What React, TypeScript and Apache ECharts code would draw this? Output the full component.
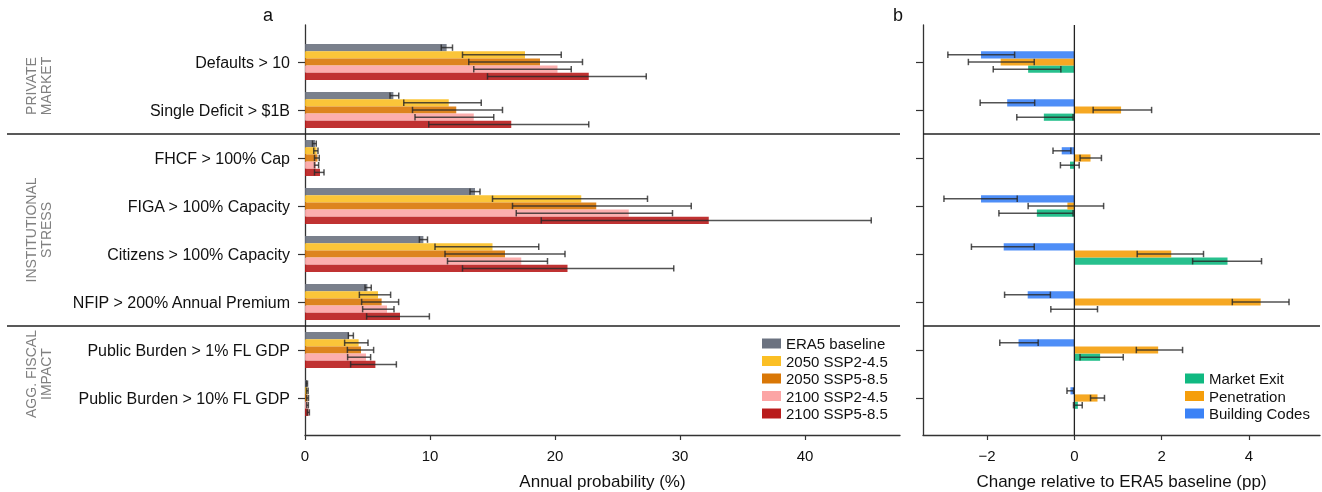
import React, { useEffect, useRef } from 'react';
import * as echarts from 'echarts';

// ---------- data ----------
const categories = [
  'Defaults > 10',
  'Single Deficit > $1B',
  'FHCF > 100% Cap',
  'FIGA > 100% Capacity',
  'Citizens > 100% Capacity',
  'NFIP > 200% Annual Premium',
  'Public Burden > 1% FL GDP',
  'Public Burden > 10% FL GDP',
];

const scenarioNames = ['ERA5 baseline', '2050 SSP2-4.5', '2050 SSP5-8.5', '2100 SSP2-4.5', '2100 SSP5-8.5'];
const scenarioColors = ['#6b7280', '#fbbf24', '#d97706', '#fca5a5', '#b91c1c'];

const era5 = [11.33, 7.07, 0.8, 13.6, 9.47, 4.99, 3.52, 0.15];
const era5Lo = [10.9, 6.8, 0.6, 13.2, 9.15, 4.8, 3.47, 0.1];
const era5Hi = [11.8, 7.5, 0.9, 14.0, 9.8, 5.3, 3.87, 0.2];

const ssp245_2050 = [17.6, 11.5, 0.93, 22.1, 15.0, 5.84, 4.29, 0.18];
const ssp245_2050Lo = [12.6, 7.9, 0.7, 15.0, 10.4, 4.35, 3.17, 0.12];
const ssp245_2050Hi = [20.5, 14.1, 1.04, 27.4, 18.7, 6.85, 5.04, 0.25];

const ssp585_2050 = [18.8, 12.1, 1.0, 23.3, 16.0, 6.13, 4.48, 0.2];
const ssp585_2050Lo = [13.1, 8.6, 0.76, 16.6, 11.2, 4.53, 3.39, 0.13];
const ssp585_2050Hi = [22.2, 15.8, 1.14, 30.9, 20.8, 7.49, 5.49, 0.28];

const ssp245_2100 = [20.2, 13.5, 0.88, 25.9, 17.3, 6.56, 4.88, 0.2];
const ssp245_2100Lo = [13.5, 8.8, 0.76, 16.9, 11.4, 4.61, 3.41, 0.13];
const ssp245_2100Hi = [21.3, 15.1, 1.09, 29.4, 19.4, 7.12, 5.25, 0.27];

const ssp585_2100 = [22.7, 16.5, 1.2, 32.3, 21.0, 7.6, 5.63, 0.28];
const ssp585_2100Lo = [14.6, 9.9, 0.76, 18.9, 12.6, 4.93, 3.65, 0.18];
const ssp585_2100Hi = [27.3, 22.7, 1.52, 45.3, 29.5, 9.95, 7.31, 0.35];

const policyNames = ['Market Exit', 'Penetration', 'Building Codes'];
const policyColors = ['#10b981', '#f59e0b', '#3b82f6'];

const marketExit = [-1.06, -0.7, -0.1, -0.86, 3.51, 0.0, 0.59, 0.08];
const marketExitLo = [-1.86, -1.32, -0.32, -1.73, 2.71, -0.54, 0.13, -0.02];
const marketExitHi = [-0.31, -0.03, 0.11, -0.03, 4.29, 0.53, 1.12, 0.18];

const penetration = [-1.69, 1.07, 0.37, -0.16, 2.22, 4.27, 1.92, 0.53];
const penetrationLo = [-2.43, 0.43, 0.13, -1.06, 1.44, 3.62, 1.42, 0.37];
const penetrationHi = [-0.92, 1.77, 0.62, 0.67, 2.96, 4.92, 2.48, 0.69];

const buildingCodes = [-2.14, -1.54, -0.29, -2.14, -1.62, -1.07, -1.28, -0.09];
const buildingCodesLo = [-2.9, -2.16, -0.49, -2.99, -2.36, -1.6, -1.71, -0.17];
const buildingCodesHi = [-1.37, -0.91, -0.08, -1.31, -0.92, -0.55, -0.83, -0.02];

const groupLabels = ['PRIVATE\nMARKET', 'INSTITUTIONAL\nSTRESS', 'AGG. FISCAL\nIMPACT'];
const groupCenters = [0.5, 3.5, 6.5];
const groupSeparators = [1.5, 5.5];

const aTicks = [0, 10, 20, 30, 40];
const bTicks = [-2, 0, 2, 4];

// ---------- helpers ----------
const FONT = '"Liberation Sans", Arial, Helvetica, sans-serif';
const ERR = 'rgba(40,40,40,0.8)';
const Y_MIN = -0.77;
const Y_MAX = 7.77;
const BAR_FRAC = 0.15;

function rows(v: number[], lo: number[], hi: number[]) {
  return v.map((x, i) => [x, i, lo[i], hi[i]]);
}

function barRender(slot: number, nSlots: number) {
  return (params: any, api: any) => {
    const v = api.value(0);
    const cat = api.value(1);
    const lo = api.value(2);
    const hi = api.value(3);
    const base = api.coord([0, cat]);
    const end = api.coord([v, cat]);
    const band = api.size([0, 1])[1];
    const h = band * BAR_FRAC;
    const cy = base[1] + (slot - (nSlots - 1) / 2) * h;
    const xLo = api.coord([lo, cat])[0];
    const xHi = api.coord([hi, cat])[0];
    const x0 = Math.min(base[0], end[0]);
    const w = Math.abs(end[0] - base[0]);
    const errStyle = { stroke: ERR, lineWidth: 1.5 };
    return {
      type: 'group',
      children: [
        { type: 'rect', shape: { x: x0, y: cy - h / 2, width: w, height: h }, style: { fill: api.visual('color'), opacity: 0.9 } },
        { type: 'line', shape: { x1: xLo, y1: cy, x2: xHi, y2: cy }, style: errStyle },
        { type: 'line', shape: { x1: xLo, y1: cy - 3.2, x2: xLo, y2: cy + 3.2 }, style: errStyle },
        { type: 'line', shape: { x1: xHi, y1: cy - 3.2, x2: xHi, y2: cy + 3.2 }, style: errStyle },
      ],
    };
  };
}

function hLineRender(params: any, api: any) {
  const y = api.coord([0, api.value(1)])[1];
  const cs = params.coordSys;
  return { type: 'line', shape: { x1: cs.x, y1: y, x2: cs.x + cs.width, y2: y }, style: { stroke: '#222', lineWidth: 1.6 } };
}

function vLineRender(params: any, api: any) {
  const x = api.coord([api.value(0), 0])[0];
  const cs = params.coordSys;
  return { type: 'line', shape: { x1: x, y1: cs.y, x2: x, y2: cs.y + cs.height }, style: { stroke: '#222', lineWidth: 1.3 } };
}

function groupLabelRender(params: any, api: any) {
  const y = api.coord([0, api.value(1)])[1];
  const cs = params.coordSys;
  return {
    type: 'text',
    x: cs.x + 31,
    y,
    rotation: Math.PI / 2,
    style: {
      text: groupLabels[params.dataIndex],
      align: 'center',
      verticalAlign: 'middle',
      fontSize: 14,
      lineHeight: 15,
      fontFamily: FONT,
      fill: '#808080',
    },
  };
}

const scenarioData = [
  rows(era5, era5Lo, era5Hi),
  rows(ssp245_2050, ssp245_2050Lo, ssp245_2050Hi),
  rows(ssp585_2050, ssp585_2050Lo, ssp585_2050Hi),
  rows(ssp245_2100, ssp245_2100Lo, ssp245_2100Hi),
  rows(ssp585_2100, ssp585_2100Lo, ssp585_2100Hi),
];
const policyData = [
  rows(marketExit, marketExitLo, marketExitHi),
  rows(penetration, penetrationLo, penetrationHi),
  rows(buildingCodes, buildingCodesLo, buildingCodesHi),
];
// vertical slot of each policy within the group (Building Codes on top)
const policySlots = [2, 1, 0];

const minusFmt = (v: number) => (v < 0 ? '\u2212' + Math.abs(v) : String(v));

export default function App() {
  const ref = useRef<HTMLDivElement>(null);
  useEffect(() => {
    if (!ref.current) return;
    const chart = echarts.init(ref.current, undefined, { renderer: 'svg' });
    const A_MAX = 47.6;
    const B_MIN = -3.47;
    const B_MAX = 5.63;

    const hiddenValueY = (inverse = true) => ({
      type: 'value', min: Y_MIN, max: Y_MAX, inverse,
      axisLabel: { show: false }, axisTick: { show: false }, splitLine: { show: false },
    });
    const g = (left: number, right: number, top: number, bottom: number) => ({
      left, right, top, bottom, containLabel: false, outerBoundsMode: 'none',
    });

    const option: any = {
      animation: false,
      textStyle: { fontFamily: FONT },
      grid: [
        g(305, 422, 25, 57), // 0: panel a axes
        g(305, 422, 38, 70), // 1: panel a categories
        g(923, 2, 25, 57),   // 2: panel b axes
        g(923, 2, 38, 70),   // 3: panel b categories
        g(7, 422, 25, 57),   // 4: panel a full-width separators
      ],
      xAxis: [
        {
          gridIndex: 0, type: 'value', min: 0, max: A_MAX, position: 'bottom',
          axisLine: { show: true, onZero: false, lineStyle: { color: '#333', width: 1.3 } },
          axisTick: { show: true, length: 5, customValues: aTicks, lineStyle: { color: '#333', width: 1.2 } },
          axisLabel: { customValues: aTicks, fontSize: 15, color: '#111', margin: 13, fontFamily: FONT },
          splitLine: { show: false },
          name: 'Annual probability (%)', nameLocation: 'middle', nameGap: 38,
          nameTextStyle: { fontSize: 17, color: '#111', fontFamily: FONT },
        },
        { gridIndex: 1, type: 'value', min: 0, max: A_MAX, show: false },
        {
          gridIndex: 2, type: 'value', min: B_MIN, max: B_MAX, position: 'bottom',
          axisLine: { show: true, onZero: false, lineStyle: { color: '#333', width: 1.3 } },
          axisTick: { show: true, length: 5, customValues: bTicks, lineStyle: { color: '#333', width: 1.2 } },
          axisLabel: { customValues: bTicks, fontSize: 15, color: '#111', margin: 13, fontFamily: FONT, formatter: minusFmt },
          splitLine: { show: false },
          name: 'Change relative to ERA5 baseline (pp)', nameLocation: 'middle', nameGap: 38,
          nameTextStyle: { fontSize: 17, color: '#111', fontFamily: FONT },
        },
        { gridIndex: 3, type: 'value', min: B_MIN, max: B_MAX, show: false },
        { gridIndex: 4, type: 'value', min: 0, max: 1, show: false },
      ],
      yAxis: [
        { gridIndex: 0, ...hiddenValueY(), axisLine: { show: true, onZero: false, lineStyle: { color: '#333', width: 1.3 } } },
        {
          gridIndex: 1, type: 'category', inverse: true, data: categories, position: 'left',
          axisLine: { show: false, onZero: false },
          axisTick: { show: true, alignWithLabel: true, length: 7, lineStyle: { color: '#333', width: 1.2 } },
          axisLabel: { fontSize: 16, color: '#111', margin: 15, fontFamily: FONT },
        },
        { gridIndex: 2, ...hiddenValueY(), axisLine: { show: true, onZero: false, lineStyle: { color: '#333', width: 1.3 } } },
        {
          gridIndex: 3, type: 'category', inverse: true, data: categories, position: 'left',
          axisLine: { show: false, onZero: false },
          axisTick: { show: true, alignWithLabel: true, length: 7, lineStyle: { color: '#333', width: 1.2 } },
          axisLabel: { show: false },
        },
        { gridIndex: 4, ...hiddenValueY(), show: false },
      ],
      legend: [
        {
          data: scenarioNames, orient: 'vertical', left: 757, top: 331,
          icon: 'rect', itemWidth: 19, itemHeight: 10, itemGap: 2.5, selectedMode: false,
          textStyle: { fontSize: 15, color: '#111', fontFamily: FONT },
        },
        {
          data: policyNames, orient: 'vertical', left: 1180, top: 366,
          icon: 'rect', itemWidth: 19, itemHeight: 10, itemGap: 2.5, selectedMode: false,
          textStyle: { fontSize: 15, color: '#111', fontFamily: FONT },
        },
      ],
      graphic: [
        { type: 'text', x: 268, y: 15, style: { text: 'a', fontSize: 18, fontFamily: FONT, fill: '#111', align: 'center', verticalAlign: 'middle' } },
        { type: 'text', x: 898, y: 15, style: { text: 'b', fontSize: 18, fontFamily: FONT, fill: '#111', align: 'center', verticalAlign: 'middle' } },
      ],
      series: [
        ...scenarioNames.map((name, s) => ({
          type: 'custom', name, xAxisIndex: 1, yAxisIndex: 1,
          itemStyle: { color: scenarioColors[s] },
          encode: { x: 0, y: 1 },
          renderItem: barRender(s, 5),
          data: scenarioData[s],
          clip: false,
        })),
        ...policyNames.map((name, p) => ({
          type: 'custom', name, xAxisIndex: 3, yAxisIndex: 3,
          itemStyle: { color: policyColors[p] },
          encode: { x: 0, y: 1 },
          renderItem: barRender(policySlots[p], 3),
          data: policyData[p],
          clip: false,
        })),
        {
          type: 'custom', name: 'sepA', xAxisIndex: 4, yAxisIndex: 4, encode: { x: 0, y: 1 },
          renderItem: hLineRender, data: groupSeparators.map((y) => [0, y]), silent: true,
        },
        {
          type: 'custom', name: 'sepB', xAxisIndex: 2, yAxisIndex: 2, encode: { x: 0, y: 1 },
          renderItem: hLineRender, data: groupSeparators.map((y) => [0, y]), silent: true,
        },
        {
          type: 'custom', name: 'zeroB', xAxisIndex: 2, yAxisIndex: 2, encode: { x: 0, y: 1 },
          renderItem: vLineRender, data: [[0, 0]], silent: true,
        },
        {
          type: 'custom', name: 'groups', xAxisIndex: 4, yAxisIndex: 4, encode: { x: 0, y: 1 },
          renderItem: groupLabelRender, data: groupCenters.map((y) => [0, y]), silent: true,
        },
      ],
    };
    chart.setOption(option);
    return () => chart.dispose();
  }, []);
  return <div ref={ref} style={{ position: 'fixed', left: 0, top: 0, width: 1322, height: 492 }} />;
}
